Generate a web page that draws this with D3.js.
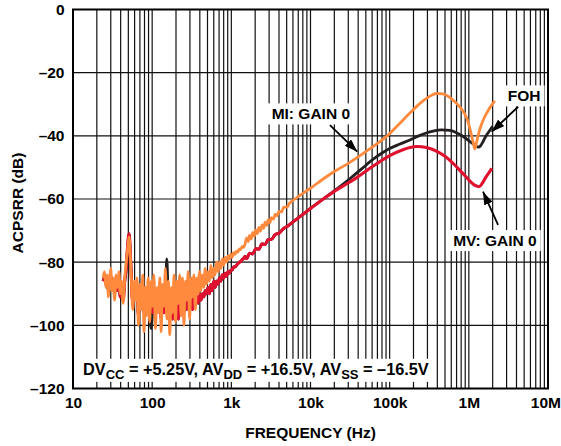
<!DOCTYPE html>
<html><head><meta charset="utf-8">
<script src="https://cdn.jsdelivr.net/npm/d3@7"></script>
<style>
body{margin:0;background:#fff}
svg{display:block}
text{font-family:"Liberation Sans",Arial,Helvetica,sans-serif;font-weight:bold;fill:#000}
</style>
</head><body>
<svg id="chart" width="561" height="446"></svg>
<script>
// ---------- DATA ----------
const lowFreq = [24,25,26,27,28,29,30,31,32,33.5,
  35,36.5,38,39.5,41,43,45,47,49,51,
  53,55,57,59.5,62,64.5,67,70,73,76,
  79,82,85,89,93,97,101,105,110,115,
  120,125,130,135,141,147,153,160,167,174,
  181,189,197,205,214,223,232,242,252,263,
  274,285,297,310,323,337,351,366,381,397,
  414,431,449,468,488,508,530,552,575,600,
  625,651,679,707,737,768,800,834,869,906,
  944,984,1025,1070,1115,1160,1210,1260,1315,1370,
  1430,1490];
const miLow = [-85,-83,-88,-84,-91,-86,-82,-89,-85,-92,
  -84,-88,-83,-90,-86,-93,-85,-80,-76,-72,
  -78,-88,-95,-86,-92,-85,-100,-87,-95,-84,
  -102,-88,-97,-85,-99,-86,-94,-84,-101,-88,
  -96,-85,-102,-87,-94,-82,-98,-86,-103,-88,
  -96,-84,-99,-86,-93,-84,-97,-85,-100,-86,
  -92,-83,-98,-85,-91,-84,-95,-85,-90,-83,
  -89,-84,-88,-82,-87,-83,-86,-81,-85,-82,
  -84,-80,-83,-80,-82,-79,-81,-78.5,-80,-78,
  -79,-77.5,-78.5,-77,-77.5,-76.5,-76.8,-75.8,-76,-75,
  -75.3,-74.3];
const mvLow = [-86,-85,-87,-86,-89,-87,-84,-88,-86,-90,
  -85,-89,-85,-91,-87,-92,-86,-82,-75,-71,
  -77,-87,-93,-88,-91,-87,-97,-89,-93,-88,
  -96,-90,-94,-89,-95,-92,-96,-90,-97,-93,
  -95,-91,-98,-93,-96,-90,-95,-92,-97,-94,
  -98,-92,-96,-94,-98,-92,-95,-93,-96,-92,
  -95,-91,-94,-92,-95,-90,-93,-91,-93,-90,
  -92,-90,-91,-89,-90,-88,-90,-87,-89,-86,
  -88,-86,-87,-85,-86,-84,-85,-83.5,-84.5,-83,
  -83.5,-82.5,-82.5,-81.5,-81.5,-81,-80.5,-80,-79.8,-79.2,
  -78.8,-78.2];
const fohLow = [-86,-85,-87,-86,-89,-87,-84,-88,-86,-90,
  -85,-89,-85,-91,-87,-92,-86,-82,-75,-71,
  -77,-87,-93,-88,-91,-87,-97,-89,-93,-88,
  -96,-90,-94,-89,-95,-101,-96,-90,-97,-93,
  -95,-91,-98,-93,-96,-90,-79,-92,-97,-94,
  -98,-92,-96,-94,-98,-92,-95,-93,-96,-92,
  -95,-91,-94,-92,-95,-90,-93,-91,-93,-90,
  -92,-90,-91,-89,-90,-88,-90,-87,-89,-86,
  -88,-86,-87,-85,-86,-84,-85,-83.5,-84.5,-83,
  -83.5,-82.5,-82.5,-81.5,-81.5,-81,-80.5,-80,-79.8,-79.2,
  -78.8,-78.2];

const miHiFreq = [1560,1630,1700,1780,1860,1950,2040,2130,2230,2330,2440,2550,2670,2800,2930,3070,3200,3400,3600,3800,4000,4300,4600,5000,5500,6350,8000,10000,14000,20000,31400,50000,70000,95000,130000,180000,250000,320000,390000,470000,550000,630000,730000,830000,935000,1020000,1080000,1140000,1190000,1240000,1320000,1420000,1550000,1700000,1900000,2130000];
const miHi = [-72.3,-73.5,-71.5,-72.7,-70.6,-71.8,-69.8,-71.0,-69.0,-70.2,-68.2,-69.3,-67.3,-68.4,-66.5,-67.5,-65.9,-66.4,-64.8,-65.3,-63.9,-64.1,-62.6,-62.6,-61.2,-60.0,-58.2,-56.6,-53.9,-51.3,-48.4,-45.0,-42.4,-39.8,-36.4,-32.8,-29.4,-27.5,-26.6,-26.7,-27.5,-28.7,-30.2,-31.9,-34.2,-37.2,-39.8,-42.3,-44.2,-42.5,-39.6,-36.9,-34.5,-32.6,-30.6,-28.9];

const mvHiFreq = [1560,1700,1860,2040,2230,2440,2670,2930,3200,3600,4000,4600,5000,6000,8000,10000,14500,20000,31400,38000,50000,70000,100000,150000,219000,300000,400000,500000,600000,750000,900000,1050000,1200000,1350000,1480000,1620000,1780000,1950000];
const mvHi = [-78.9,-77.2,-77.4,-75.7,-75.9,-74.2,-74.4,-72.8,-72.8,-71.2,-70.8,-69.3,-68.8,-67.25,-64.9,-63.0,-60.0,-57.6,-54.6,-53.3,-51.2,-48.7,-46.3,-44.3,-43.4,-43.8,-45.0,-46.5,-48.2,-50.6,-52.7,-54.5,-55.7,-56.1,-55.0,-53.3,-51.8,-50.3];

const fohHiFreq = [1560,1700,1860,2040,2230,2440,2670,2930,3200,3600,4000,4600,5000,6000,8000,10000,14500,20000,31400,45000,62000,83000,100000,135000,180000,229000,290000,355000,450000,575000,700000,850000,1000000,1150000,1250000,1320000,1400000,1500000,1600000,1800000,2000000];
const fohHi = [-78.9,-77.2,-77.4,-75.7,-75.9,-74.2,-74.4,-72.8,-72.8,-71.2,-70.8,-69.3,-68.8,-67.25,-64.9,-63.0,-60.0,-57.4,-53.6,-50.3,-47.4,-45.2,-44.0,-42.6,-41.3,-40.1,-39.1,-38.5,-38.1,-38.3,-39.0,-40.2,-41.5,-42.7,-43.4,-43.6,-43.2,-42.0,-40.6,-38.6,-37.0];

const xTickValues = [10,100,1e3,1e4,1e5,1e6,1e7];
const xTickLabels = ["10","100","1k","10k","100k","1M","10M"];
const yTickValues = [0,-20,-40,-60,-80,-100,-120];
const yTickLabels = ["0","–20","–40","–60","–80","–100","–120"];

// annotations in data coordinates [freq, dB]
const labelMI = {text:"MI: GAIN 0", at:[10100,-34.8], tail:[17600,-36.6], tip:[39000,-45]};
const labelFOH = {text:"FOH", at:[5.0e6,-29.1], tail:[4.2e6,-30.8], tip:[1.94e6,-38.7]};
const labelMV = {text:"MV: GAIN 0", at:[2.14e6,-74.9], tail:[2.34e6,-68.2], tip:[1.51e6,-57.7]};

// ---------- CHART ----------
const svg = d3.select("#chart");
const x = d3.scaleLog().domain([10,1e7]).range([73,548]);
const y = d3.scaleLinear().domain([0,-120]).range([9.5,388.5]);

const gGrid = svg.append("g");
gGrid.selectAll("line.v").data(x.ticks()).join("line")
  .attr("x1",d=>x(d)).attr("x2",d=>x(d)).attr("y1",y(0)).attr("y2",y(-120))
  .attr("stroke","#111").attr("stroke-width",1.2);
gGrid.selectAll("line.h").data(yTickValues).join("line")
  .attr("x1",x(10)).attr("x2",x(1e7)).attr("y1",d=>y(d)).attr("y2",d=>y(d))
  .attr("stroke","#111").attr("stroke-width",1.2);

// bottom condition box
const gNote = svg.append("g");
gNote.append("rect")
  .attr("x",x(10)+1).attr("y",y(-110.6))
  .attr("width",x(3.3e5)-x(10)-1).attr("height",y(-117.9)-y(-110.6))
  .attr("fill","#fff");
const note = gNote.append("text").attr("x",x(13.4)).attr("y",y(-115.8)).attr("font-size",16.3);
const parts = [["DV",0],["CC",1],[" = +5.25V, AV",0],["DD",1],[" = +16.5V, AV",0],["SS",1],[" = –16.5V",0]];
let prevSub = 0;
parts.forEach(([t,sub])=>{
  const ts = note.append("tspan").text(t);
  if(sub){ts.attr("font-size",13).attr("dy",prevSub?0:4);} else {ts.attr("dy",prevSub?-4:0);}
  prevSub = sub;
});

// frame
svg.append("rect").attr("x",x(10)).attr("y",y(0))
  .attr("width",x(1e7)-x(10)).attr("height",y(-120)-y(0))
  .attr("fill","none").attr("stroke","#000").attr("stroke-width",2);

// axes labels via d3 axes
const xAxis = d3.axisBottom(x).tickValues(xTickValues).tickSize(0).tickPadding(0)
  .tickFormat((d,i)=>xTickLabels[i]);
const gx = svg.append("g").attr("transform",`translate(0,${y(-120)})`).call(xAxis);
gx.select(".domain").remove();
gx.selectAll("text").attr("font-size",15.5).attr("font-family",null).attr("dy",null).attr("y",19.5).attr("fill","#000");
gx.selectAll("text").filter((d,i)=>i===xTickValues.length-1).attr("text-anchor","end").attr("x",12.5);

const yAxis = d3.axisLeft(y).tickValues(yTickValues).tickSize(0).tickPadding(8.5)
  .tickFormat((d,i)=>yTickLabels[i]);
const gy = svg.append("g").attr("transform",`translate(${x(10)},0)`).call(yAxis);
gy.select(".domain").remove();
gy.selectAll("text").attr("font-size",15.5).attr("font-family",null).attr("fill","#000");

svg.append("text").attr("x",(x(10)+x(1e7))/2).attr("y",438).attr("text-anchor","middle")
  .attr("font-size",15.5).text("FREQUENCY (Hz)");
svg.append("text").attr("transform",`translate(23,${(y(0)+y(-120))/2+4}) rotate(-90)`)
  .attr("text-anchor","middle").attr("font-size",15.5).text("ACPSRR (dB)");

// curves
const line = d3.line().x(d=>x(d[0])).y(d=>y(d[1])).curve(d3.curveMonotoneX);
const series = [
  {pts: d3.zip(lowFreq,fohLow).concat(d3.zip(fohHiFreq,fohHi)), color:"#231f20", w:2.8},
  {pts: d3.zip(lowFreq,mvLow).concat(d3.zip(mvHiFreq,mvHi)), color:"#e0102f", w:3.1},
  {pts: d3.zip(lowFreq,miLow).concat(d3.zip(miHiFreq,miHi)), color:"#ff8a3d", w:2.8}
];
svg.append("g").selectAll("path").data(series).join("path")
  .attr("d",d=>line(d.pts)).attr("fill","none").attr("stroke",d=>d.color)
  .attr("stroke-width",d=>d.w).attr("stroke-linejoin","round");

// callouts
svg.append("defs").append("marker").attr("id","ah")
  .attr("markerUnits","userSpaceOnUse").attr("markerWidth",13).attr("markerHeight",9)
  .attr("refX",13).attr("refY",4.5).attr("orient","auto")
  .append("path").attr("d","M0,0L13,4.5L0,9Z").attr("fill","#000");

[labelMI,labelFOH,labelMV].forEach(l=>{
  const g = svg.append("g");
  const t = g.append("text").attr("x",x(l.at[0])).attr("y",y(l.at[1]))
    .attr("text-anchor","middle").attr("font-size",15.5).text(l.text);
  const bb = t.node().getBBox();
  g.insert("rect","text").attr("x",bb.x-4).attr("y",bb.y-2).attr("width",bb.width+8).attr("height",bb.height+4).attr("fill","#fff");
  g.append("line").attr("x1",x(l.tail[0])).attr("y1",y(l.tail[1]))
    .attr("x2",x(l.tip[0])).attr("y2",y(l.tip[1]))
    .attr("stroke","#000").attr("stroke-width",1.8).attr("marker-end","url(#ah)");
});
</script>
</body></html>
